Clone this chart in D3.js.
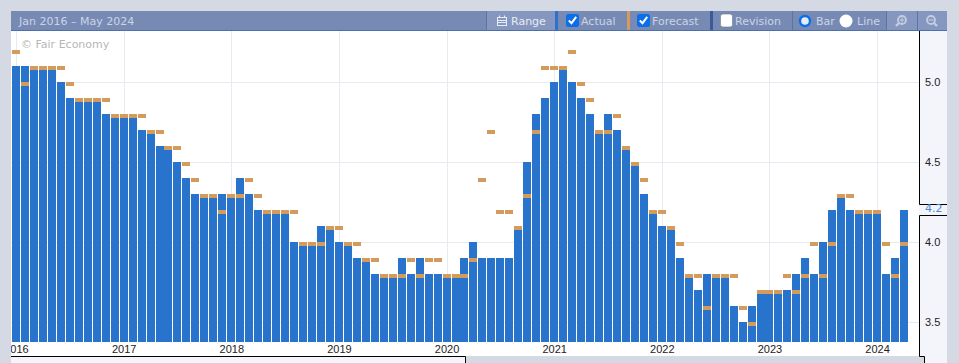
<!DOCTYPE html>
<html>
<head>
<meta charset="utf-8">
<script src="https://d3js.org/d3.v7.min.js"></script>
<style>
  html, body { margin: 0; padding: 0; background: #d5d9e3; overflow: hidden; }
  svg { display: block; font-family: "DejaVu Sans", sans-serif; }
  svg text { font-size: 11px; }
</style>
</head>
<body>
<div id="chart-container"></div>
<script>
// Monthly values, Jan 2016 to Apr 2024
const actual = [
  5.1, 5.1, 5.1, 5.1, 5.1, 5.0, 4.9, 4.9, 4.9, 4.9, 4.8, 4.8,
  4.8, 4.8, 4.7, 4.7, 4.6, 4.6, 4.5, 4.4, 4.3, 4.3, 4.3, 4.3,
  4.3, 4.4, 4.3, 4.2, 4.2, 4.2, 4.2, 4.0, 4.0, 4.0, 4.1, 4.1,
  4.0, 4.0, 3.9, 3.9, 3.8, 3.8, 3.8, 3.9, 3.8, 3.9, 3.8, 3.8,
  3.8, 3.8, 3.9, 4.0, 3.9, 3.9, 3.9, 3.9, 4.1, 4.5, 4.8, 4.9,
  5.0, 5.1, 5.0, 4.9, 4.8, 4.7, 4.8, 4.7, 4.6, 4.5, 4.3, 4.2,
  4.1, 4.1, 3.9, 3.8, 3.7, 3.8, 3.8, 3.8, 3.6, 3.5, 3.6, 3.7,
  3.7, 3.7, 3.7, 3.8, 3.9, 3.8, 4.0, 4.2, 4.3, 4.2, 4.2, 4.2,
  4.2, 3.8, 3.9, 4.2
];
const forecast = [
  5.2, 5.0, 5.1, 5.1, 5.1, 5.1, 5.0, 4.9, 4.9, 4.9, 4.9, 4.8,
  4.8, 4.8, 4.8, 4.7, 4.7, 4.6, 4.6, 4.5, 4.4, 4.3, 4.3, 4.2,
  4.3, 4.3, 4.4, 4.3, 4.2, 4.2, 4.2, 4.2, 4.0, 4.0, 4.0, 4.1,
  4.1, 4.0, 4.0, 3.9, 3.9, 3.8, 3.8, 3.8, 3.9, 3.8, 3.9, 3.9,
  3.8, 3.8, 3.8, 3.9, 4.4, 4.7, 4.2, 4.2, 4.1, 4.3, 4.7, 5.1,
  5.1, 5.1, 5.2, 5.0, 4.9, 4.7, 4.7, 4.8, 4.6, 4.5, 4.4, 4.2,
  4.2, 4.1, 4.0, 3.8, 3.8, 3.6, 3.8, 3.8, 3.8, 3.6, 3.5, 3.7,
  3.7, 3.7, 3.8, 3.7, 3.8, 4.0, 3.8, 4.0, 4.3, 4.3, 4.2, 4.2,
  4.2, 4.0, 3.8, 4.0
];
const months = d3.timeMonth.range(new Date(2016, 0, 1), new Date(2024, 4, 1));
const yearTicks = d3.range(2016, 2025).map(y => new Date(y, 0, 1));
const valueTicks = [3.5, 4.0, 4.5, 5.0];
const latestValue = 4.2;
const titleText = "Jan 2016 – May 2024";

const W = 959, H = 363;
const plot = { left: 11, right: 919, top: 31, bottom: 342, end: 356 };
const panelRight = 947;

const svg = d3.select("#chart-container").append("svg")
  .attr("width", W)
  .attr("height", H);

const xScale = d3.scaleBand()
  .domain(months)
  .range([12, 908])
  .paddingInner(1 / 9)
  .paddingOuter(0);

const yScale = d3.scaleLinear()
  .domain([3.5, 5.0])
  .range([322, 82]);

const barX = d => Math.round(xScale(d));
const barMid = d => xScale(d) + xScale.bandwidth() / 2;

// Backgrounds
svg.append("rect").attr("x", plot.left).attr("y", plot.top)
  .attr("width", plot.right - plot.left).attr("height", plot.end - plot.top)
  .attr("fill", "#fff");
svg.append("rect").attr("x", plot.right).attr("y", plot.top)
  .attr("width", panelRight - plot.right).attr("height", H - plot.top)
  .attr("fill", "#f4f5fa");
svg.append("rect").attr("x", plot.right).attr("y", 357)
  .attr("width", 5).attr("height", 6).attr("fill", "#d5d9e3");
svg.append("rect").attr("x", plot.left).attr("y", 357)
  .attr("width", 454).attr("height", 6).attr("fill", "#f4f5fa");

// Gridlines
svg.append("g").selectAll("line").data(valueTicks).enter().append("line")
  .attr("x1", plot.left).attr("x2", plot.right)
  .attr("y1", d => yScale(d) + 0.5).attr("y2", d => yScale(d) + 0.5)
  .attr("stroke", "#e8eaf2");
svg.append("g").selectAll("line").data(yearTicks).enter().append("line")
  .attr("x1", d => Math.round(barMid(d)) + 0.5).attr("x2", d => Math.round(barMid(d)) + 0.5)
  .attr("y1", plot.top).attr("y2", plot.bottom)
  .attr("stroke", "#e8eaf2");

// Watermark
svg.append("text").attr("x", 21).attr("y", 48)
  .attr("fill", "#b7b7b7").text("© Fair Economy");

// Actual bars
svg.append("g").selectAll("rect").data(months).enter().append("rect")
  .attr("x", barX)
  .attr("y", (d, i) => yScale(actual[i]))
  .attr("width", 8)
  .attr("height", (d, i) => plot.bottom - yScale(actual[i]))
  .attr("fill", "#2874cd");

// Forecast marks
svg.append("g").selectAll("rect").data(months).enter().append("rect")
  .attr("x", barX)
  .attr("y", (d, i) => yScale(forecast[i]))
  .attr("width", 8)
  .attr("height", 4)
  .attr("fill", "#d39b5c");

// X axis, clipped so the 2016 label runs off the left edge
svg.append("clipPath").attr("id", "plot-clip").append("rect")
  .attr("x", plot.left).attr("y", plot.bottom)
  .attr("width", plot.right - plot.left).attr("height", 14);

const xAxis = svg.append("g")
  .attr("clip-path", "url(#plot-clip)")
  .append("g")
  .attr("transform", `translate(0.5,${plot.bottom})`)
  .call(d3.axisBottom(xScale).tickValues(yearTicks).tickSize(0).tickPadding(3)
    .tickFormat(d3.timeFormat("%Y")));
xAxis.select(".domain").remove();
xAxis.selectAll("text").attr("fill", "#222").style("font-family", "inherit").style("font-size", "11px");

// Y axis on the right
const yAxis = svg.append("g")
  .attr("transform", `translate(${plot.right},0)`)
  .call(d3.axisRight(yScale).tickValues(valueTicks).tickSize(0).tickPadding(6)
    .tickFormat(d3.format(".1f")));
yAxis.select(".domain").remove();
yAxis.selectAll("text").attr("fill", "#222").style("font-family", "inherit").style("font-size", "11px");

// Black frame with the notch around the latest value
const frame = d3.path();
frame.moveTo(plot.right + 0.5, plot.top);
frame.lineTo(plot.right + 0.5, 204.5);
frame.lineTo(panelRight, 204.5);
frame.moveTo(panelRight, 215.5);
frame.lineTo(plot.right + 0.5, 215.5);
frame.lineTo(plot.right + 0.5, 356.5);
frame.lineTo(924.5, 356.5);
frame.lineTo(924.5, H);
frame.moveTo(plot.left, 356.5);
frame.lineTo(465.5, 356.5);
frame.lineTo(465.5, H);
svg.append("path").attr("d", frame.toString())
  .attr("fill", "none").attr("stroke", "#000");

svg.append("text").attr("x", 925).attr("y", yScale(latestValue) + 2)
  .attr("fill", "#4a8ad8").text(d3.format(".1f")(latestValue));

// Header bar
const header = svg.append("g");
header.append("rect").attr("x", plot.left).attr("y", 11)
  .attr("width", panelRight - plot.left).attr("height", 19).attr("fill", "#768ab4");
header.append("rect").attr("x", plot.left).attr("y", 30)
  .attr("width", panelRight - plot.left).attr("height", 1).attr("fill", "#4e70aa");
header.append("text").attr("x", 19).attr("y", 25).attr("fill", "#ccd4e6").text(titleText);

// Lighter buttons
[[487, 68], [887, 30], [918, 29]].forEach(([x, w]) => {
  header.append("rect").attr("x", x).attr("y", 11).attr("width", w).attr("height", 19).attr("fill", "#8596bf");
});
[486, 792, 886, 917].forEach(x => {
  header.append("rect").attr("x", x).attr("y", 11).attr("width", 1).attr("height", 19).attr("fill", "#5a75a9");
});

// Series colour strips
[[555, 3, "#2874cd"], [627, 3, "#d39b5c"], [710, 3, "#3a5a9c"]].forEach(([x, w, c]) => {
  header.append("rect").attr("x", x).attr("y", 11).attr("width", w).attr("height", 19).attr("fill", c);
});

// Control labels
[["Range", 511, "#e8ecf4"], ["Actual", 581, "#ccd4e6"], ["Forecast", 652, "#ccd4e6"],
 ["Revision", 735, "#ccd4e6"], ["Bar", 816, "#ccd4e6"], ["Line", 857, "#ccd4e6"]].forEach(([t, x, c]) => {
  header.append("text").attr("x", x).attr("y", 25).attr("fill", c).text(t);
});

// Checkboxes
[[566, 13, true], [637, 13, true], [720.5, 12, false]].forEach(([x, s, on]) => {
  header.append("rect").attr("x", x).attr("y", 14).attr("width", s).attr("height", 13).attr("rx", 2.5)
    .attr("fill", on ? "#0b6fe8" : "#fff").attr("stroke", on ? "none" : "#777").attr("stroke-width", 0.6);
  if (on) {
    header.append("path")
      .attr("d", `M${x + 2.8} ${20.5} L${x + 5.5} ${23.2} L${x + 10.2} ${16.8}`)
      .attr("fill", "none").attr("stroke", "#fff").attr("stroke-width", 2);
  }
});

// Radios
header.append("circle").attr("cx", 805).attr("cy", 21).attr("r", 5).attr("fill", "#e6ecf6")
  .attr("stroke", "#0b6fe8").attr("stroke-width", 2.4);
header.append("circle").attr("cx", 846).attr("cy", 21).attr("r", 6.5).attr("fill", "#fff");

// Calendar icon
const cal = header.append("g").attr("fill", "none").attr("stroke", "#e8ecf4").attr("stroke-width", 1);
cal.append("rect").attr("x", 497.5).attr("y", 17.5).attr("width", 9).attr("height", 8);
cal.append("path").attr("d", "M497 20.5H507 M497 22.5H507 M499.5 15.5V18 M504.5 15.5V18");

// Zoom icons
[[902, "M-2.5 0H2.5 M0 -2.5V2.5", "M-3 3L-6 6"], [931, "M-2.5 0H2.5", "M3 3L6 6"]].forEach(([x, mark, handle]) => {
  const g = header.append("g").attr("transform", `translate(${x},20)`)
    .attr("fill", "none").attr("stroke", "#c3cde2");
  g.append("circle").attr("r", 4).attr("stroke-width", 1.8);
  g.append("path").attr("d", mark).attr("stroke-width", 1.2);
  g.append("path").attr("d", handle).attr("stroke-width", 2.4);
});
</script>
</body>
</html>
